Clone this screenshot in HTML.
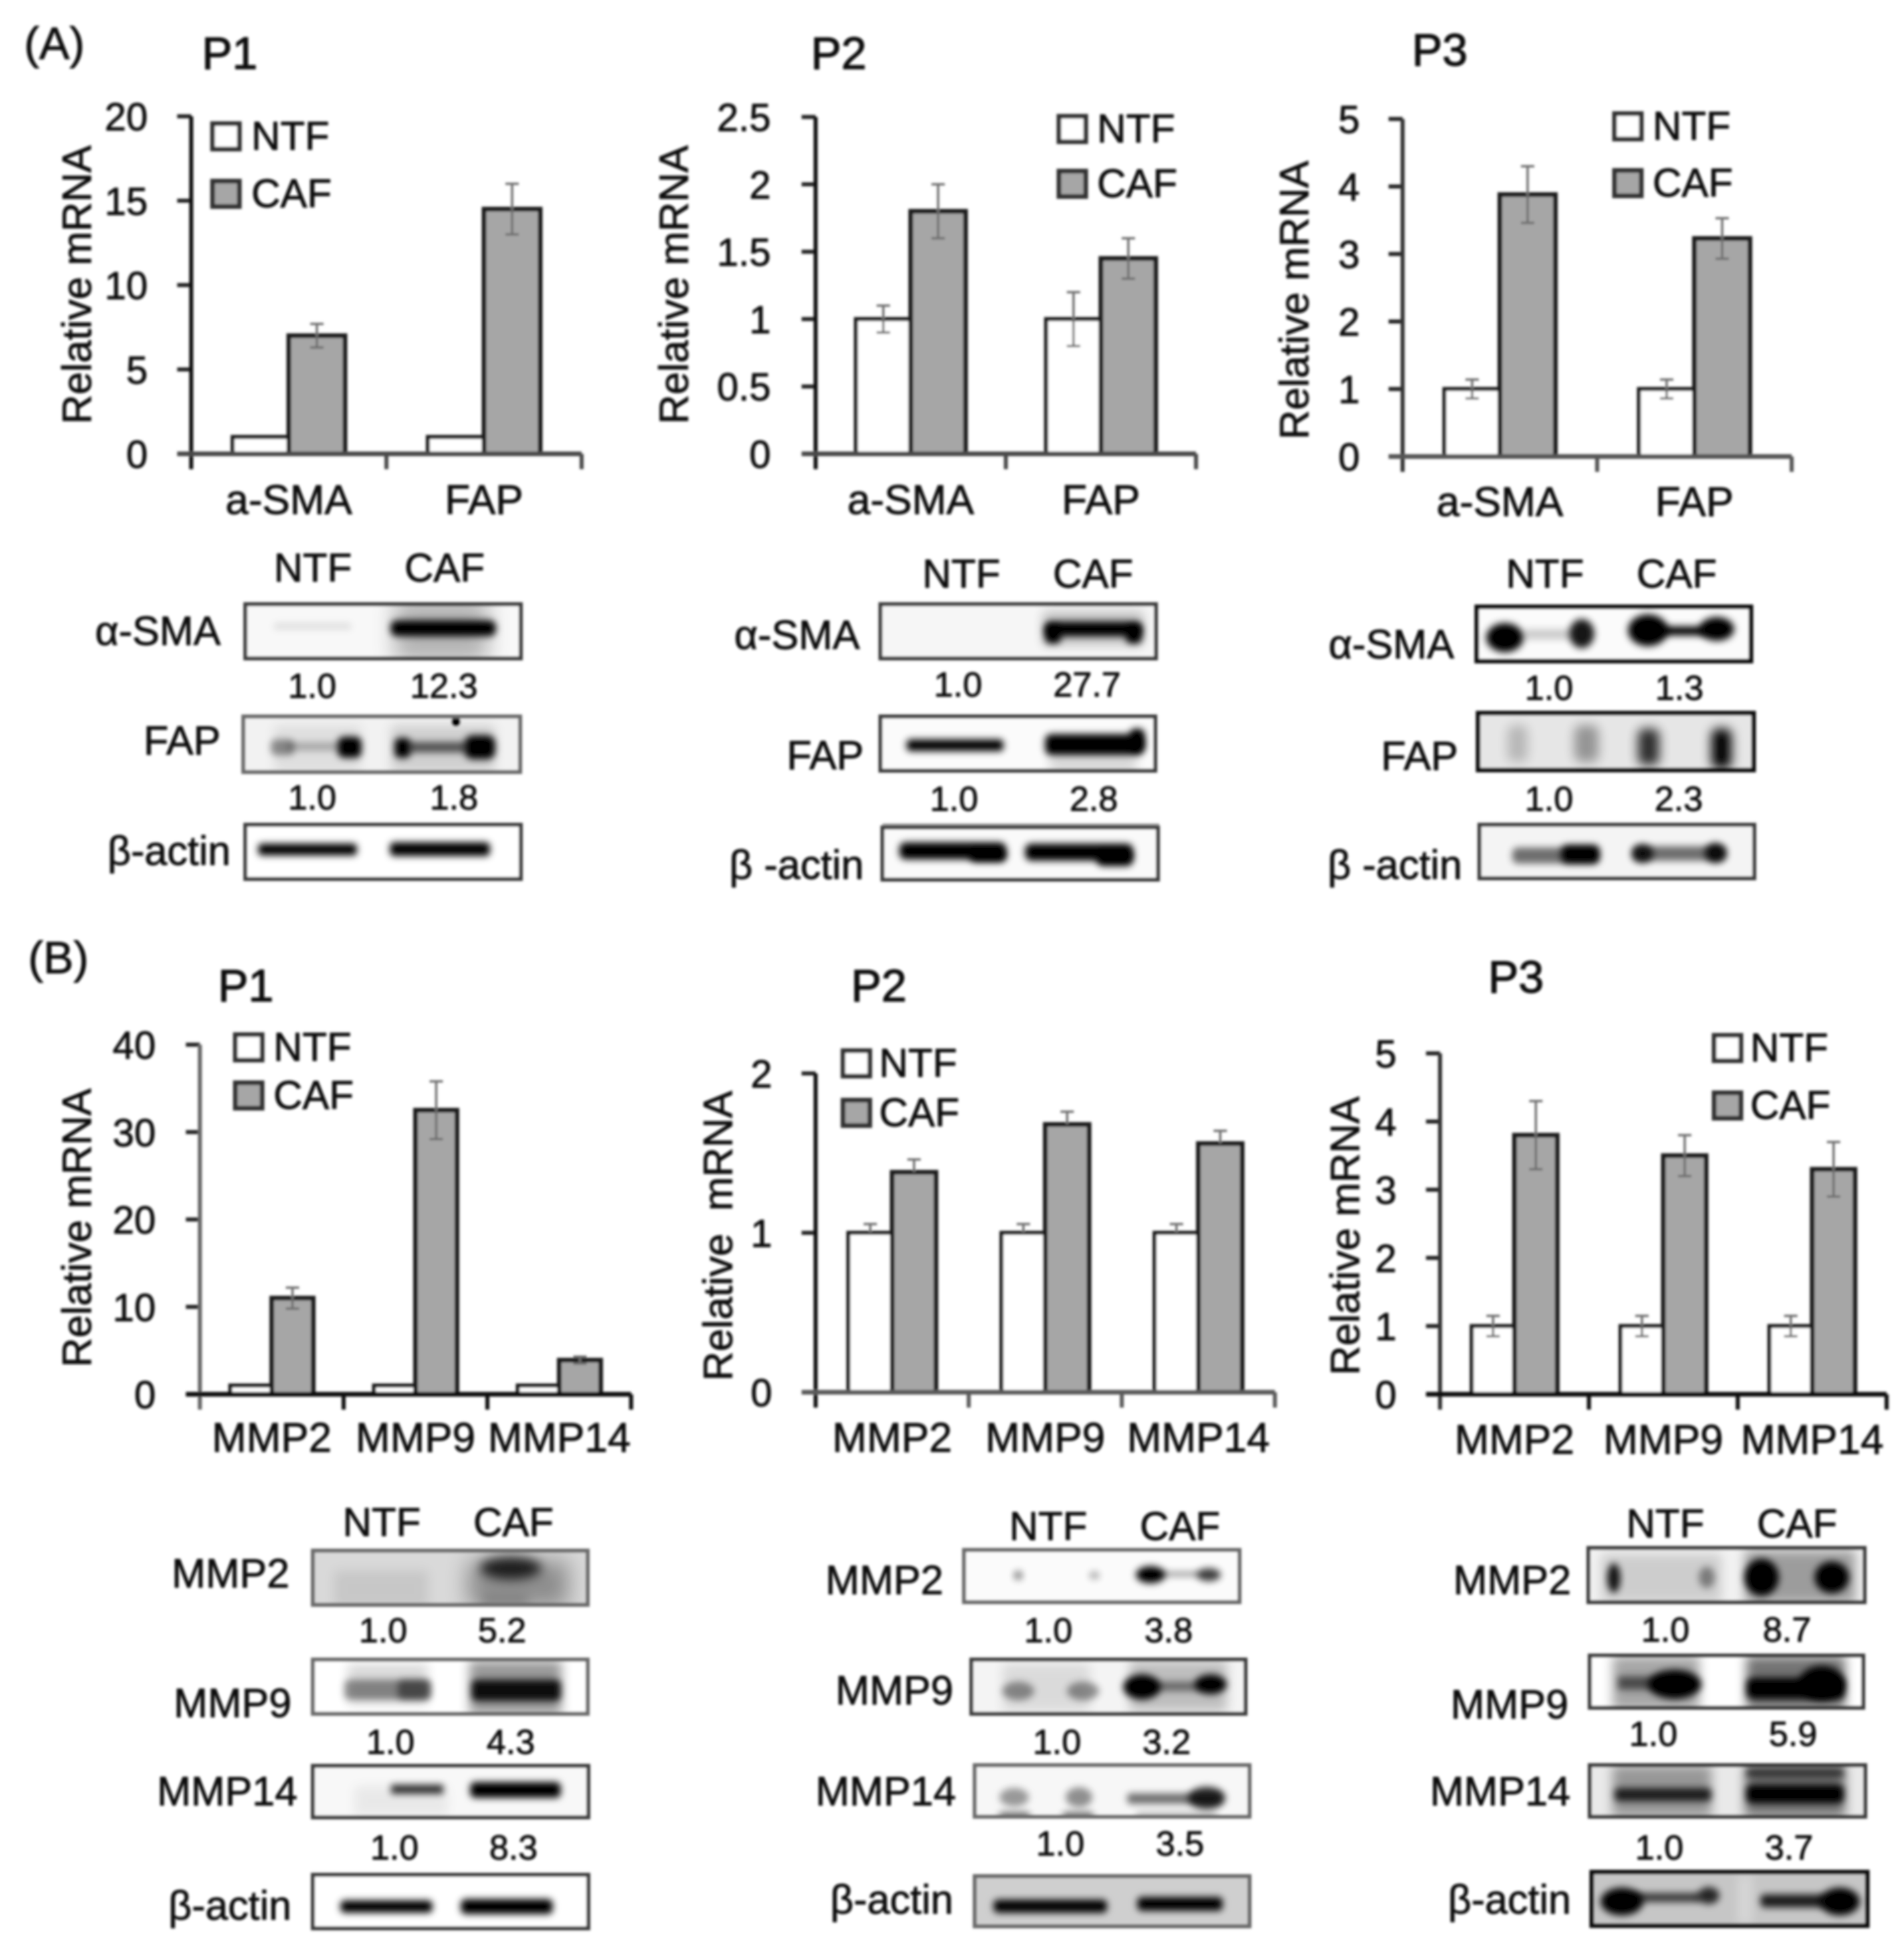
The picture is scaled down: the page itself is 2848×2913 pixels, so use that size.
<!DOCTYPE html>
<html lang="en">
<head>
<meta charset="utf-8">
<title>NTF vs CAF relative mRNA and western blots</title>
<style>
html,body{margin:0;padding:0;background:#fff;}
svg text{font-family:"Liberation Sans",sans-serif;fill:#111;stroke:#111;stroke-width:.9px;}
.title{font-size:68px;stroke-width:1.4px;}
.panel{font-size:68px;}
.hdr{font-size:60px;text-anchor:middle;}
.val{font-size:52px;text-anchor:middle;}
.row{font-size:61px;text-anchor:end;}
.bd{fill:none;stroke:#3c3c3c;stroke-width:6;}
.bd2{fill:none;stroke:#6a6a6a;stroke-width:6;}
.bd3{fill:none;stroke:#0c0c0c;stroke-width:7;}
</style>
</head>
<body>
<svg xmlns="http://www.w3.org/2000/svg" width="2848" height="2913" viewBox="0 0 2848 2913" style="display:block">
<defs>
<filter id="soft" filterUnits="userSpaceOnUse" x="0" y="0" width="2848" height="2913"><feGaussianBlur stdDeviation="1.9"/></filter>
<filter id="b4" x="-40%" y="-150%" width="180%" height="400%"><feGaussianBlur stdDeviation="5"/></filter>
<filter id="b8" x="-60%" y="-200%" width="220%" height="500%"><feGaussianBlur stdDeviation="8"/></filter>
<filter id="b16" x="-60%" y="-200%" width="220%" height="500%"><feGaussianBlur stdDeviation="16"/></filter>
</defs>
<rect width="2848" height="2913" fill="#fff"/>
<g filter="url(#soft)">

<text class="panel" x="36" y="88">(A)</text>
<text class="panel" x="42" y="1456">(B)</text>
<text class="title" x="302" y="103">P1</text>
<text class="title" x="1213" y="103">P2</text>
<text class="title" x="2112" y="98">P3</text>
<text class="title" x="326" y="1498">P1</text>
<text class="title" x="1273" y="1498">P2</text>
<text class="title" x="2226" y="1485">P3</text>

<g id="charts"></g>

<!-- Panel A, P1 blots -->
<g>
<text class="hdr" x="468" y="870">NTF</text>
<text class="hdr" x="665" y="870">CAF</text>
<text class="row" x="330" y="965">α-SMA</text>
<svg x="367" y="902" width="414" height="84" viewBox="367 902 414 84">
<rect x="367" y="902" width="414" height="84" fill="#f8f8f8"/>
<rect x="410" y="932" width="115" height="10" fill="#000" opacity=".1" filter="url(#b4)"/>
<rect x="590" y="895" width="140" height="95" fill="#000" opacity=".28" filter="url(#b16)"/>
<rect x="584" y="928" width="158" height="24" rx="10" fill="#000" filter="url(#b4)"/>
</svg>
<rect class="bd" x="367" y="904" width="412" height="81"/>
<text class="val" x="467" y="1044">1.0</text>
<text class="val" x="664" y="1044">12.3</text>
<text class="row" x="330" y="1129">FAP</text>
<svg x="365" y="1071" width="414" height="86" viewBox="365 1071 414 86">
<rect x="365" y="1071" width="414" height="86" fill="#f2f2f2"/>
<rect x="410" y="1085" width="130" height="70" fill="#000" opacity=".08" filter="url(#b8)"/>
<rect x="585" y="1085" width="155" height="70" fill="#000" opacity=".14" filter="url(#b8)"/>
<rect x="405" y="1106" width="35" height="24" rx="8" fill="#000" opacity=".4" filter="url(#b4)"/>
<rect x="430" y="1111" width="80" height="12" fill="#000" opacity=".25" filter="url(#b4)"/>
<rect x="505" y="1102" width="36" height="32" rx="10" fill="#000" filter="url(#b4)"/>
<rect x="590" y="1104" width="24" height="30" rx="8" fill="#000" filter="url(#b4)"/>
<rect x="610" y="1110" width="90" height="16" fill="#000" opacity=".6" filter="url(#b4)"/>
<rect x="695" y="1100" width="46" height="36" rx="12" fill="#000" filter="url(#b4)"/>
<circle cx="682" cy="1080" r="7" fill="#000"/>
</svg>
<rect class="bd2" x="364" y="1072" width="414" height="83"/>
<text class="val" x="467" y="1211">1.0</text>
<text class="val" x="679" y="1211">1.8</text>
<text class="row" x="345" y="1294">β-actin</text>
<svg x="367" y="1232" width="414" height="84" viewBox="367 1232 414 84">
<rect x="367" y="1232" width="414" height="84" fill="#fff"/>
<rect x="386" y="1262" width="148" height="18" rx="6" fill="#000" filter="url(#b4)"/>
<rect x="583" y="1260" width="150" height="21" rx="7" fill="#000" filter="url(#b4)"/>
</svg>
<rect class="bd" x="367" y="1234" width="412" height="81"/>
</g>

<!-- Panel A, P2 blots -->
<g>
<text class="hdr" x="1438" y="879">NTF</text>
<text class="hdr" x="1635" y="879">CAF</text>
<text class="row" x="1286" y="971">α-SMA</text>
<svg x="1317" y="902" width="414" height="84" viewBox="1317 902 414 84">
<rect x="1317" y="902" width="414" height="84" fill="#f6f6f6"/>
<rect x="1560" y="915" width="150" height="50" fill="#000" opacity=".22" filter="url(#b8)"/>
<rect x="1563" y="930" width="145" height="22" rx="8" fill="#000" filter="url(#b4)"/>
<rect x="1563" y="935" width="24" height="28" rx="8" fill="#000" filter="url(#b4)"/>
<rect x="1684" y="935" width="24" height="28" rx="8" fill="#000" filter="url(#b4)"/>
</svg>
<rect class="bd" x="1317" y="904" width="412" height="81"/>
<text class="val" x="1433" y="1042">1.0</text>
<text class="val" x="1626" y="1042">27.7</text>
<text class="row" x="1292" y="1151">FAP</text>
<svg x="1317" y="1070" width="412" height="84" viewBox="1317 1070 412 84">
<rect x="1317" y="1070" width="412" height="84" fill="#fbfbfb"/>
<rect x="1356" y="1106" width="145" height="18" rx="6" fill="#000" filter="url(#b4)"/>
<rect x="1563" y="1098" width="148" height="32" rx="10" fill="#000" filter="url(#b4)"/>
<rect x="1690" y="1090" width="22" height="34" rx="8" fill="#000" filter="url(#b4)"/>
<rect x="1570" y="1128" width="130" height="28" fill="#000" opacity=".14" filter="url(#b8)"/>
</svg>
<rect class="bd" x="1317" y="1072" width="411" height="81"/>
<text class="val" x="1427" y="1213">1.0</text>
<text class="val" x="1636" y="1213">2.8</text>
<text class="row" x="1292" y="1315">β -actin</text>
<svg x="1320" y="1234" width="414" height="84" viewBox="1320 1234 414 84">
<rect x="1320" y="1234" width="414" height="84" fill="#fafafa"/>
<rect x="1345" y="1260" width="160" height="26" rx="10" fill="#000" filter="url(#b4)"/>
<rect x="1450" y="1270" width="55" height="20" rx="9" fill="#000" filter="url(#b4)"/>
<rect x="1533" y="1262" width="162" height="26" rx="10" fill="#000" filter="url(#b4)"/>
<rect x="1640" y="1272" width="55" height="24" rx="10" fill="#000" filter="url(#b4)"/>
</svg>
<rect x="1320" y="1232" width="414" height="8" fill="#9c9c9c"/>
<rect class="bd" x="1320" y="1238" width="412" height="78"/>
</g>

<!-- Panel A, P3 blots -->
<g>
<text class="hdr" x="2311" y="879">NTF</text>
<text class="hdr" x="2508" y="879">CAF</text>
<text class="row" x="2175" y="985">α-SMA</text>
<svg x="2208" y="907" width="411" height="84" viewBox="2208 907 411 84">
<rect x="2208" y="907" width="411" height="84" fill="#fbfbfb"/>
<rect x="2280" y="941" width="70" height="16" fill="#000" opacity=".18" filter="url(#b4)"/>
<ellipse cx="2251" cy="954" rx="28" ry="22" fill="#000" filter="url(#b4)"/>
<ellipse cx="2366" cy="948" rx="19" ry="22" fill="#000" opacity=".9" filter="url(#b4)"/>
<ellipse cx="2465" cy="943" rx="30" ry="24" fill="#000" filter="url(#b4)"/>
<rect x="2480" y="937" width="75" height="14" fill="#000" filter="url(#b4)"/>
<ellipse cx="2568" cy="941" rx="26" ry="18" fill="#000" filter="url(#b4)"/>
</svg>
<rect class="bd3" x="2209" y="908" width="410" height="81"/>
<text class="val" x="2317" y="1047">1.0</text>
<text class="val" x="2512" y="1047">1.3</text>
<text class="row" x="2181" y="1152">FAP</text>
<svg x="2211" y="1065" width="413" height="88" viewBox="2211 1065 413 88">
<rect x="2211" y="1065" width="413" height="88" fill="#e6e6e6"/>
<rect x="2255" y="1085" width="30" height="55" rx="10" fill="#000" opacity=".2" filter="url(#b8)"/>
<rect x="2355" y="1085" width="36" height="55" rx="10" fill="#000" opacity=".35" filter="url(#b8)"/>
<rect x="2450" y="1090" width="32" height="55" rx="10" fill="#000" opacity=".8" filter="url(#b8)"/>
<rect x="2560" y="1090" width="30" height="60" rx="10" fill="#000" filter="url(#b8)"/>
</svg>
<rect class="bd3" x="2211" y="1067" width="412" height="85"/>
<text class="val" x="2317" y="1213">1.0</text>
<text class="val" x="2511" y="1213">2.3</text>
<text class="row" x="2187" y="1315">β -actin</text>
<svg x="2213" y="1232" width="411" height="84" viewBox="2213 1232 411 84">
<rect x="2213" y="1232" width="411" height="84" fill="#f4f4f4"/>
<rect x="2262" y="1268" width="128" height="24" rx="8" fill="#000" opacity=".55" filter="url(#b4)"/>
<rect x="2335" y="1264" width="58" height="28" rx="10" fill="#000" filter="url(#b4)"/>
<rect x="2442" y="1266" width="140" height="22" rx="8" fill="#000" opacity=".55" filter="url(#b4)"/>
<ellipse cx="2457" cy="1277" rx="16" ry="14" fill="#000" opacity=".85" filter="url(#b4)"/>
<ellipse cx="2566" cy="1276" rx="16" ry="15" fill="#000" opacity=".9" filter="url(#b4)"/>
</svg>
<rect class="bd" x="2213" y="1234" width="411" height="80"/>
</g>

<!-- Panel B, P1 blots -->
<g>
<text class="hdr" x="571" y="2298">NTF</text>
<text class="hdr" x="768" y="2298">CAF</text>
<text class="row" x="433" y="2375">MMP2</text>
<svg x="468" y="2318" width="411" height="84" viewBox="468 2318 411 84">
<rect x="468" y="2318" width="411" height="84" fill="#d9d9d9"/>
<rect x="500" y="2350" width="140" height="55" fill="#000" opacity=".08" filter="url(#b8)"/>
<rect x="700" y="2335" width="150" height="70" fill="#000" opacity=".35" filter="url(#b16)"/>
<ellipse cx="764" cy="2346" rx="46" ry="17" fill="#000" opacity=".8" filter="url(#b8)"/>
<rect x="720" y="2388" width="70" height="16" fill="#000" opacity=".2" filter="url(#b8)"/>
</svg>
<rect class="bd2" x="468" y="2320" width="411" height="81"/>
<text class="val" x="573" y="2457">1.0</text>
<text class="val" x="751" y="2457">5.2</text>
<text class="row" x="436" y="2569">MMP9</text>
<svg x="468" y="2481" width="411" height="84" viewBox="468 2481 411 84">
<rect x="468" y="2481" width="411" height="84" fill="#fff"/>
<rect x="520" y="2490" width="120" height="60" fill="#000" opacity=".15" filter="url(#b8)"/>
<rect x="515" y="2513" width="130" height="30" rx="8" fill="#000" opacity=".4" filter="url(#b4)"/>
<rect x="595" y="2513" width="48" height="30" rx="8" fill="#000" opacity=".45" filter="url(#b4)"/>
<rect x="702" y="2485" width="138" height="80" fill="#000" opacity=".4" filter="url(#b8)"/>
<rect x="705" y="2513" width="134" height="32" rx="8" fill="#000" opacity=".9" filter="url(#b4)"/>
</svg>
<rect class="bd2" x="468" y="2483" width="411" height="81"/>
<text class="val" x="584" y="2624">1.0</text>
<text class="val" x="764" y="2624">4.3</text>
<text class="row" x="445" y="2701">MMP14</text>
<svg x="468" y="2639" width="414" height="81" viewBox="468 2639 414 81">
<rect x="468" y="2639" width="414" height="81" fill="#f8f8f8"/>
<rect x="530" y="2672" width="140" height="45" fill="#000" opacity=".06" filter="url(#b8)"/>
<rect x="585" y="2670" width="78" height="14" fill="#000" opacity=".8" filter="url(#b4)"/>
<rect x="703" y="2666" width="136" height="24" rx="8" fill="#000" filter="url(#b4)"/>
</svg>
<rect class="bd" x="468" y="2642" width="412" height="77"/>
<text class="val" x="590" y="2782">1.0</text>
<text class="val" x="768" y="2782">8.3</text>
<text class="row" x="436" y="2872">β-actin</text>
<svg x="468" y="2804" width="414" height="82" viewBox="468 2804 414 82">
<rect x="468" y="2804" width="414" height="82" fill="#fff"/>
<rect x="509" y="2843" width="138" height="19" rx="7" fill="#000" filter="url(#b4)"/>
<rect x="689" y="2841" width="138" height="23" rx="8" fill="#000" filter="url(#b4)"/>
</svg>
<rect class="bd" x="468" y="2805" width="412" height="80"/>
</g>

<!-- Panel B, P2 blots -->
<g>
<text class="hdr" x="1568" y="2304">NTF</text>
<text class="hdr" x="1765" y="2304">CAF</text>
<text class="row" x="1411" y="2385">MMP2</text>
<svg x="1442" y="2316" width="414" height="82" viewBox="1442 2316 414 82">
<rect x="1442" y="2316" width="414" height="82" fill="#fbfbfb"/>
<ellipse cx="1523" cy="2357" rx="7" ry="7" fill="#000" opacity=".45" filter="url(#b4)"/>
<ellipse cx="1637" cy="2357" rx="8" ry="6" fill="#000" opacity=".3" filter="url(#b4)"/>
<ellipse cx="1721" cy="2356" rx="22" ry="13" fill="#000" filter="url(#b4)"/>
<rect x="1735" y="2351" width="60" height="8" fill="#000" opacity=".35" filter="url(#b4)"/>
<ellipse cx="1808" cy="2356" rx="18" ry="10" fill="#000" opacity=".75" filter="url(#b4)"/>
</svg>
<rect class="bd2" x="1442" y="2319" width="412" height="78"/>
<text class="val" x="1568" y="2457">1.0</text>
<text class="val" x="1748" y="2457">3.8</text>
<text class="row" x="1426" y="2550">MMP9</text>
<svg x="1453" y="2481" width="412" height="84" viewBox="1453 2481 412 84">
<rect x="1453" y="2481" width="412" height="84" fill="#f4f4f4"/>
<rect x="1500" y="2490" width="130" height="70" fill="#000" opacity=".1" filter="url(#b8)"/>
<rect x="1690" y="2485" width="145" height="75" fill="#000" opacity=".22" filter="url(#b8)"/>
<ellipse cx="1523" cy="2530" rx="24" ry="14" fill="#000" opacity=".4" filter="url(#b4)"/>
<ellipse cx="1620" cy="2530" rx="24" ry="14" fill="#000" opacity=".4" filter="url(#b4)"/>
<ellipse cx="1708" cy="2524" rx="28" ry="19" fill="#000" filter="url(#b4)"/>
<rect x="1720" y="2516" width="80" height="14" fill="#000" opacity=".45" filter="url(#b4)"/>
<ellipse cx="1811" cy="2520" rx="24" ry="15" fill="#000" filter="url(#b4)"/>
</svg>
<rect class="bd" x="1453" y="2483" width="410" height="81"/>
<text class="val" x="1581" y="2624">1.0</text>
<text class="val" x="1745" y="2624">3.2</text>
<text class="row" x="1430" y="2701">MMP14</text>
<svg x="1458" y="2639" width="413" height="81" viewBox="1458 2639 413 81">
<rect x="1458" y="2639" width="413" height="81" fill="#f7f7f7"/>
<ellipse cx="1517" cy="2689" rx="22" ry="14" fill="#000" opacity=".38" filter="url(#b4)"/>
<ellipse cx="1614" cy="2689" rx="20" ry="15" fill="#000" opacity=".42" filter="url(#b4)"/>
<rect x="1686" y="2683" width="140" height="16" rx="5" fill="#000" opacity=".55" filter="url(#b4)"/>
<ellipse cx="1805" cy="2690" rx="28" ry="17" fill="#000" opacity=".8" filter="url(#b4)"/>
<rect x="1495" y="2712" width="45" height="8" fill="#000" opacity=".7" filter="url(#b4)"/>
<rect x="1590" y="2712" width="45" height="8" fill="#000" opacity=".7" filter="url(#b4)"/>
<rect x="1700" y="2712" width="120" height="8" fill="#000" opacity=".3" filter="url(#b4)"/>
</svg>
<rect class="bd2" x="1458" y="2641" width="411" height="77"/>
<text class="val" x="1586" y="2776">1.0</text>
<text class="val" x="1765" y="2776">3.5</text>
<text class="row" x="1426" y="2863">β-actin</text>
<svg x="1458" y="2805" width="413" height="78" viewBox="1458 2805 413 78">
<rect x="1458" y="2805" width="413" height="78" fill="#cfcfcf"/>
<rect x="1486" y="2842" width="170" height="20" rx="7" fill="#000" filter="url(#b4)"/>
<rect x="1701" y="2838" width="128" height="21" rx="7" fill="#000" filter="url(#b4)"/>
</svg>
<rect class="bd2" x="1458" y="2807" width="411" height="75"/>
</g>

<!-- Panel B, P3 blots -->
<g>
<text class="hdr" x="2491" y="2300">NTF</text>
<text class="hdr" x="2688" y="2300">CAF</text>
<text class="row" x="2350" y="2385">MMP2</text>
<svg x="2375" y="2314" width="417" height="85" viewBox="2375 2314 417 85">
<rect x="2375" y="2314" width="417" height="85" fill="#f2f2f2"/>
<rect x="2395" y="2325" width="180" height="72" fill="#000" opacity=".15" filter="url(#b8)"/>
<rect x="2610" y="2320" width="165" height="78" fill="#000" opacity=".35" filter="url(#b8)"/>
<ellipse cx="2414" cy="2361" rx="10" ry="22" fill="#000" opacity=".9" filter="url(#b4)"/>
<ellipse cx="2553" cy="2360" rx="12" ry="16" fill="#000" opacity=".4" filter="url(#b4)"/>
<ellipse cx="2635" cy="2360" rx="26" ry="28" fill="#000" filter="url(#b4)"/>
<ellipse cx="2740" cy="2360" rx="26" ry="24" fill="#000" filter="url(#b4)"/>
</svg>
<rect class="bd" x="2376" y="2316" width="413" height="81"/>
<text class="val" x="2491" y="2456">1.0</text>
<text class="val" x="2673" y="2456">8.7</text>
<text class="row" x="2346" y="2571">MMP9</text>
<svg x="2378" y="2475" width="411" height="82" viewBox="2378 2475 411 82">
<rect x="2378" y="2475" width="411" height="82" fill="#fff"/>
<rect x="2412" y="2478" width="130" height="80" fill="#000" opacity=".35" filter="url(#b8)"/>
<rect x="2612" y="2478" width="148" height="80" fill="#000" opacity=".55" filter="url(#b8)"/>
<rect x="2420" y="2508" width="70" height="20" fill="#000" opacity=".55" filter="url(#b4)"/>
<ellipse cx="2505" cy="2520" rx="40" ry="22" fill="#000" filter="url(#b4)"/>
<rect x="2612" y="2510" width="148" height="32" rx="10" fill="#000" filter="url(#b4)"/>
<ellipse cx="2725" cy="2518" rx="34" ry="26" fill="#000" filter="url(#b4)"/>
</svg>
<rect class="bd" x="2378" y="2477" width="409" height="78"/>
<text class="val" x="2473" y="2612">1.0</text>
<text class="val" x="2682" y="2612">5.9</text>
<text class="row" x="2349" y="2701">MMP14</text>
<svg x="2378" y="2639" width="414" height="81" viewBox="2378 2639 414 81">
<rect x="2378" y="2639" width="414" height="81" fill="#e9e9e9"/>
<rect x="2412" y="2642" width="148" height="76" fill="#000" opacity=".35" filter="url(#b8)"/>
<rect x="2610" y="2642" width="150" height="76" fill="#000" opacity=".5" filter="url(#b8)"/>
<rect x="2415" y="2675" width="145" height="20" rx="6" fill="#000" opacity=".8" filter="url(#b4)"/>
<rect x="2612" y="2670" width="146" height="28" rx="8" fill="#000" filter="url(#b4)"/>
<rect x="2612" y="2645" width="146" height="14" fill="#000" opacity=".6" filter="url(#b4)"/>
</svg>
<rect class="bd" x="2378" y="2641" width="412" height="77"/>
<text class="val" x="2482" y="2782">1.0</text>
<text class="val" x="2676" y="2782">3.7</text>
<text class="row" x="2350" y="2863">β-actin</text>
<svg x="2381" y="2799" width="414" height="83" viewBox="2381 2799 414 83">
<rect x="2381" y="2799" width="414" height="83" fill="#c6c6c6"/>
<rect x="2600" y="2805" width="20" height="75" fill="#d8d8d8" filter="url(#b8)"/>
<ellipse cx="2426" cy="2845" rx="32" ry="21" fill="#000" filter="url(#b4)"/>
<rect x="2440" y="2832" width="105" height="14" fill="#000" opacity=".7" filter="url(#b4)"/>
<ellipse cx="2556" cy="2836" rx="16" ry="13" fill="#000" opacity=".8" filter="url(#b4)"/>
<rect x="2633" y="2834" width="100" height="20" rx="7" fill="#000" opacity=".85" filter="url(#b4)"/>
<ellipse cx="2752" cy="2845" rx="30" ry="21" fill="#000" filter="url(#b4)"/>
</svg>
<rect class="bd3" x="2381" y="2801" width="412" height="80"/>
</g>

</g>
</svg>

<script>
const seriesNames = ['NTF', 'CAF'];

const a1Categories = ['a-SMA', 'FAP'];
const a1Ntf = [1, 1];
const a1Caf = [7, 14.5];
const a1NtfErr = [0, 0];
const a1CafErr = [0.7, 1.5];
const a1Ticks = [0, 5, 10, 15, 20];

const a2Categories = ['a-SMA', 'FAP'];
const a2Ntf = [1, 1];
const a2Caf = [1.8, 1.45];
const a2NtfErr = [0.1, 0.2];
const a2CafErr = [0.2, 0.15];
const a2Ticks = [0, 0.5, 1, 1.5, 2, 2.5];

const a3Categories = ['a-SMA', 'FAP'];
const a3Ntf = [1, 1];
const a3Caf = [3.88, 3.23];
const a3NtfErr = [0.14, 0.14];
const a3CafErr = [0.42, 0.3];
const a3Ticks = [0, 1, 2, 3, 4, 5];

const b1Categories = ['MMP2', 'MMP9', 'MMP14'];
const b1Ntf = [1, 1, 1];
const b1Caf = [11, 32.5, 3.9];
const b1NtfErr = [0, 0, 0];
const b1CafErr = [1.2, 3.3, 0.4];
const b1Ticks = [0, 10, 20, 30, 40];

const b2Categories = ['MMP2', 'MMP9', 'MMP14'];
const b2Ntf = [1, 1, 1];
const b2Caf = [1.38, 1.68, 1.56];
const b2NtfErr = [0.055, 0.055, 0.055];
const b2CafErr = [0.08, 0.08, 0.08];
const b2Ticks = [0, 1, 2];

const b3Categories = ['MMP2', 'MMP9', 'MMP14'];
const b3Ntf = [1, 1, 1];
const b3Caf = [3.8, 3.5, 3.3];
const b3NtfErr = [0.15, 0.15, 0.15];
const b3CafErr = [0.5, 0.3, 0.4];
const b3Ticks = [0, 1, 2, 3, 4, 5];

const SVGNS = 'http://www.w3.org/2000/svg';
const root = document.getElementById('charts');

function mk(parent, tag, attrs, txt) {
  const el = document.createElementNS(SVGNS, tag);
  for (const k in attrs) el.setAttribute(k, attrs[k]);
  if (txt !== undefined) el.textContent = txt;
  parent.appendChild(el);
  return el;
}

function drawChart(c) {
  const g = mk(root, 'g', {});
  
  

  const max = c.ticks[c.ticks.length - 1];
  const yScale = v => c.bottom - (v / max) * (c.bottom - c.top);
  const slot = (c.xEnd - c.axisX) / c.cats.length;
  const xCenter = i => c.axisX + slot * (i + 0.5);

  c.cats.forEach((cat, i) => {
    const ntf = mk(g, 'rect', {x: xCenter(i) - c.barW, y: yScale(c.ntf[i]), width: c.barW, height: c.bottom - yScale(c.ntf[i]), fill: '#fff', stroke: '#1c1c1c', 'stroke-width': 6});
    
    
    const caf = mk(g, 'rect', {x: xCenter(i), y: yScale(c.caf[i]), width: c.barW, height: c.bottom - yScale(c.caf[i]), fill: '#a6a6a6', stroke: '#1c1c1c', 'stroke-width': 7});
    
    
    drawError(g, xCenter(i) - c.barW / 2, c.ntf[i], c.ntfErr[i]);
    drawError(g, xCenter(i) + c.barW / 2, c.caf[i], c.cafErr[i]);
    const label = mk(g, 'text', {x: xCenter(i), y: c.catY, 'text-anchor': 'middle', 'font-size': c.catSize}, cat);
    
    
  });

  function drawError(parent, x, v, e) {
    if (!e) return;
    const yTop = yScale(v + e);
    const yLow = c.upperOnly ? yScale(v) : yScale(v - e);
    const eb = mk(parent, 'path', {d: 'M' + x + ' ' + yTop + 'V' + yLow + 'M' + (x - 10) + ' ' + yTop + 'H' + (x + 10) + (c.upperOnly ? '' : 'M' + (x - 10) + ' ' + yLow + 'H' + (x + 10)), fill: 'none', stroke: '#6e6e6e', 'stroke-width': 3.5});
    
    
  }

  c.ticks.forEach(t => {
    const tick = mk(g, 'line', {x1: c.axisX - 21, x2: c.axisX, y1: yScale(t), y2: yScale(t), stroke: '#222', 'stroke-width': 6});
    
    
    const lab = mk(g, 'text', {x: c.tickRight, y: yScale(t) + 21, 'text-anchor': 'end', 'font-size': 58}, String(t));
    
    
  });

  const yAxis = mk(g, 'line', {x1: c.axisX, x2: c.axisX, y1: c.top, y2: c.bottom + 23, stroke: c.yColor, 'stroke-width': 6});
  
  
  const xAxis = mk(g, 'line', {x1: c.axisX - 21, x2: c.xEnd, y1: c.bottom, y2: c.bottom, stroke: c.xColor, 'stroke-width': 7});
  
  
  for (let i = 1; i <= c.cats.length; i++) {
    const xt = mk(g, 'line', {x1: c.axisX + slot * i, x2: c.axisX + slot * i, y1: c.bottom, y2: c.bottom + 23, stroke: c.xColor, 'stroke-width': 6});
    
    
  }

  const yTitle = mk(g, 'text', {transform: 'translate(' + c.titleX + ' ' + c.titleY + ') rotate(-90)', 'text-anchor': 'middle', 'font-size': 61, style: 'white-space:pre'}, c.yTitle);
  
  

  seriesNames.forEach((name, i) => {
    const box = mk(g, 'rect', {x: c.legX, y: c.legY[i], width: 40, height: 38, fill: i ? '#a6a6a6' : '#fff', stroke: '#333', 'stroke-width': 7});
    
    
    const t = mk(g, 'text', {x: c.legTextX, y: c.legY[i] + 39, 'font-size': 60}, name);
    
    
  });
}

drawChart({cats: a1Categories, ntf: a1Ntf, caf: a1Caf, ntfErr: a1NtfErr, cafErr: a1CafErr, ticks: a1Ticks,
  axisX: 286, xEnd: 870, top: 174, bottom: 679, barW: 84, tickRight: 221, catY: 769, catSize: 62,
  titleX: 136, titleY: 426, yTitle: 'Relative mRNA', legX: 318, legY: [185, 271], legTextX: 376, yColor: '#111', xColor: '#4a4a4a'});
drawChart({cats: a2Categories, ntf: a2Ntf, caf: a2Caf, ntfErr: a2NtfErr, cafErr: a2CafErr, ticks: a2Ticks,
  axisX: 1220, xEnd: 1789, top: 175, bottom: 679, barW: 82, tickRight: 1153, catY: 769, catSize: 62,
  titleX: 1029, titleY: 426, yTitle: 'Relative mRNA', legX: 1584, legY: [174, 256], legTextX: 1641, yColor: '#111', xColor: '#4a4a4a'});
drawChart({cats: a3Categories, ntf: a3Ntf, caf: a3Caf, ntfErr: a3NtfErr, cafErr: a3CafErr, ticks: a3Ticks,
  axisX: 2098, xEnd: 2680, top: 178, bottom: 683, barW: 83, tickRight: 2034, catY: 772, catSize: 62,
  titleX: 1957, titleY: 449, yTitle: 'Relative mRNA', legX: 2415, legY: [170, 255], legTextX: 2472, yColor: '#333', xColor: '#555'});
drawChart({cats: b1Categories, ntf: b1Ntf, caf: b1Caf, ntfErr: b1NtfErr, cafErr: b1CafErr, ticks: b1Ticks,
  axisX: 299, xEnd: 944, top: 1563, bottom: 2086, barW: 62, tickRight: 233, catY: 2172, catSize: 62,
  titleX: 136, titleY: 1837, yTitle: 'Relative mRNA', legX: 352, legY: [1548, 1620], legTextX: 409, yColor: '#666', xColor: '#111'});
drawChart({cats: b2Categories, ntf: b2Ntf, caf: b2Caf, ntfErr: b2NtfErr, cafErr: b2CafErr, ticks: b2Ticks, upperOnly: true,
  axisX: 1220, xEnd: 1907, top: 1606, bottom: 2083, barW: 65.5, tickRight: 1155, catY: 2172, catSize: 62,
  titleX: 1095, titleY: 1849, yTitle: 'Relative  mRNA', legX: 1261, legY: [1572, 1646], legTextX: 1315, yColor: '#111', xColor: '#5a5a5a'});
drawChart({cats: b3Categories, ntf: b3Ntf, caf: b3Caf, ntfErr: b3NtfErr, cafErr: b3CafErr, ticks: b3Ticks,
  axisX: 2154, xEnd: 2822, top: 1576, bottom: 2086, barW: 64, tickRight: 2089, catY: 2175, catSize: 62,
  titleX: 2033, titleY: 1849, yTitle: 'Relative mRNA', legX: 2564, legY: [1549, 1635], legTextX: 2618, yColor: '#333', xColor: '#111'});
</script>
</body>
</html>
